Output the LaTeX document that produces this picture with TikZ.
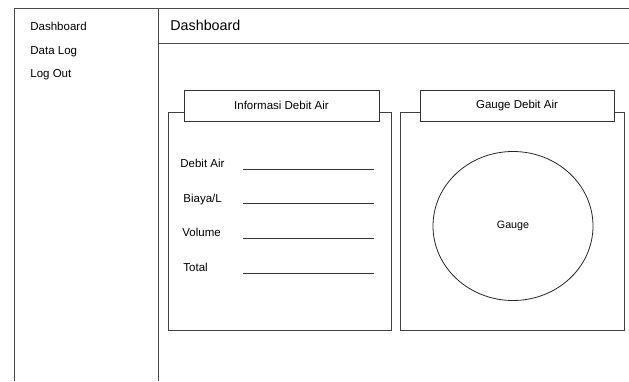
\documentclass[tikz,border=0pt]{standalone}
\usepackage{fontspec}
\setmainfont{Liberation Sans}
\usetikzlibrary{shapes.geometric}
\begin{document}
\begin{tikzpicture}[x=1pt,y=-1pt,line width=0.8pt,
  frameline/.style={draw=black!70},
  panelbox/.style={draw=black!75,rectangle,inner sep=0pt},
  titlebox/.style={draw=black!80,fill=white,rectangle,inner sep=0pt,font=\fontsize{11.5}{13}\selectfont},
  menutext/.style={anchor=base west,inner sep=0pt,font=\fontsize{11.5}{13}\selectfont},
  headtext/.style={anchor=base west,inner sep=0pt,font=\fontsize{14.3}{16}\selectfont},
  fieldline/.style={draw=black!80}]
\useasboundingbox (0,0) rectangle (629,381);
\coordinate (fbl) at (14,381);
\coordinate (ftl) at (14,8);
\coordinate (ftr) at (629,8);
\coordinate (dtop) at (158,8);
\coordinate (dbot) at (158,381);
\coordinate (hl) at (158,43);
\coordinate (hr) at (629,43);
\draw[frameline] (fbl) -- (ftl) -- (ftr);
\draw[frameline] (dtop) -- (dbot);
\draw[frameline] (hl) -- (hr);
\node[menutext] (m1) at (30,30) {Dashboard};
\node[menutext] (m2) at (30,54) {Data Log};
\node[menutext] (m3) at (30,77) {Log Out};
\node[headtext] (head) at (170,30) {Dashboard};
% left panel
\node[panelbox,minimum width=223pt,minimum height=218pt] (p1) at (279.5,221) {};
\node[titlebox,minimum width=195pt,minimum height=31pt] (t1) at (281.5,105.5) {Informasi Debit Air};
\node[menutext] (l1) at (180,167) {Debit Air};
\node[menutext] (l2) at (183,202) {Biaya/L};
\node[menutext] (l3) at (182,236) {Volume};
\node[menutext] (l4) at (183,271) {Total};
\coordinate (a1) at (243,169); \coordinate (b1) at (374,169);
\coordinate (a2) at (243,203); \coordinate (b2) at (374,203);
\coordinate (a3) at (243,238); \coordinate (b3) at (374,238);
\coordinate (a4) at (243,273); \coordinate (b4) at (374,273);
\draw[fieldline] (a1) -- (b1);
\draw[fieldline] (a2) -- (b2);
\draw[fieldline] (a3) -- (b3);
\draw[fieldline] (a4) -- (b4);
% right panel
\node[panelbox,minimum width=224pt,minimum height=218pt] (p2) at (512,221) {};
\node[titlebox,minimum width=194pt,minimum height=31pt] (t2) at (517,105.5) {Gauge Debit Air};
\node[draw=black!85,ellipse,inner sep=0pt,minimum width=160pt,minimum height=149pt,font=\fontsize{10.7}{12}\selectfont] (g) at (513,226) {Gauge};
\end{tikzpicture}
\end{document}
